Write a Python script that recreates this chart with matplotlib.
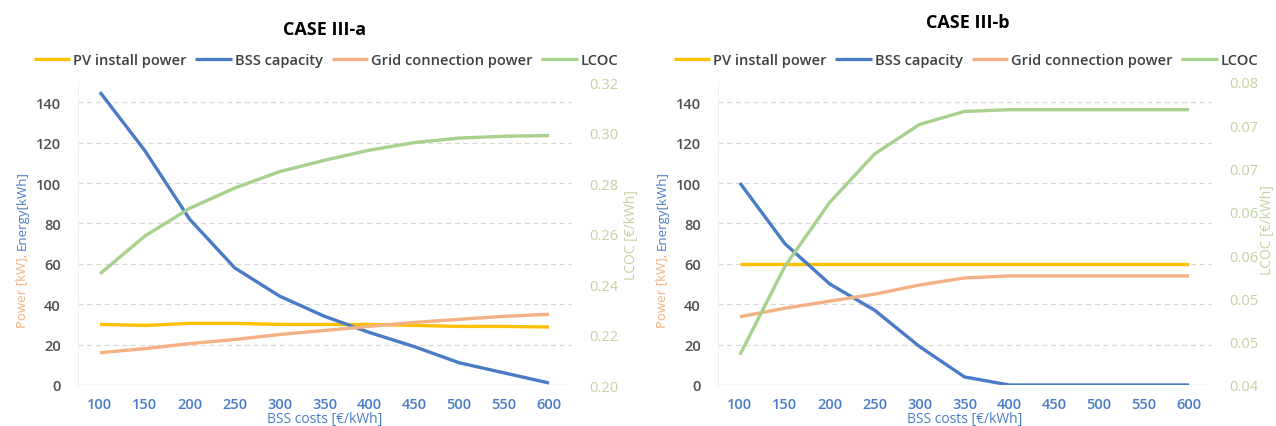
import matplotlib
matplotlib.use("Agg")
import matplotlib.pyplot as plt

plt.rcParams['font.family'] = ['Open Sans', 'DejaVu Sans']

# ---------------- data ----------------
bss_costs = [100, 150, 200, 250, 300, 350, 400, 450, 500, 550, 600]

a_pv = [30, 29.5, 30.5, 30.5, 30, 30, 30, 29.5, 29, 29, 28.7]
a_bss = [145, 116, 82, 58, 44, 34, 26, 19, 11, 6, 1]
a_grid = [16, 18, 20.5, 22.5, 25, 27, 29, 31, 32.5, 34, 35]
a_lcoc = [0.244, 0.259, 0.270, 0.278, 0.2845, 0.289, 0.293, 0.296, 0.2978, 0.2985, 0.2988]

b_pv = [60, 60, 60, 60, 60, 60, 60, 60, 60, 60, 60]
b_bss = [100, 70, 50, 37, 19, 4, 0, 0, 0, 0, 0]
b_grid = [33.8, 38, 41.5, 45, 49.5, 53, 54, 54, 54, 54, 54]
b_lcoc = [0.0435, 0.0537, 0.0611, 0.0667, 0.0701, 0.0716, 0.0718, 0.0718, 0.0718, 0.0718, 0.0718]

left_ticks = [0, 20, 40, 60, 80, 100, 120, 140]
a_right_ticks = [0.20, 0.22, 0.24, 0.26, 0.28, 0.30, 0.32]
a_right_labels = ['0.20', '0.22', '0.24', '0.26', '0.28', '0.30', '0.32']
b_right_ticks = [0.040, 0.045, 0.050, 0.055, 0.060, 0.065, 0.070, 0.075]
b_right_labels = ['0.04', '0.05', '0.05', '0.06', '0.06', '0.07', '0.07', '0.08']

titles = ['CASE III-a', 'CASE III-b']
series_names = ['PV install power', 'BSS capacity', 'Grid connection power', 'LCOC']

# ---------------- style ----------------
C_PV = '#FFC000'
C_BSS = '#4A7CC6'
C_GRID = '#F4B183'
C_LCOC = '#A9D18E'
C_RTICK = '#C3D3A0'
C_LTICK = '#505050'
C_XTICK = '#4A7CC6'
GRIDC = '#D9D9D9'
LW = 2.4

W, H = 1276, 427
fig = plt.figure(figsize=(W / 100, H / 100), dpi=100)
fig.patch.set_facecolor('white')


def fx(px):
    return px / W


def fy(py):
    return 1 - py / H


panels = [
    dict(x0=77.5, pv=a_pv, bss=a_bss, grid=a_grid, lcoc=a_lcoc,
         rlim=(0.20, 0.32), rticks=a_right_ticks, rlabels=a_right_labels,
         title=titles[0], title_xy=(325, 30), leg_x=326, rlab_x=632, rlab_y=235),
    dict(x0=717.5, pv=b_pv, bss=b_bss, grid=b_grid, lcoc=b_lcoc,
         rlim=(0.04, 0.075), rticks=b_right_ticks, rlabels=b_right_labels,
         title=titles[1], title_xy=(968, 23), leg_x=966, rlab_x=1267, rlab_y=230),
]

ylabel_pairs = []

for p in panels:
    ax = fig.add_axes([fx(p['x0']), fy(386), 494 / W, 303 / H])
    ax2 = ax.twinx()
    ax.set_zorder(ax2.get_zorder() - 1)
    ax.patch.set_visible(False)

    l1, = ax.plot(bss_costs, p['pv'], color=C_PV, lw=LW, solid_capstyle='butt', zorder=3)
    l2, = ax.plot(bss_costs, p['bss'], color=C_BSS, lw=LW, solid_capstyle='butt', zorder=3)
    l3, = ax.plot(bss_costs, p['grid'], color=C_GRID, lw=LW, solid_capstyle='butt', zorder=3)
    l4, = ax2.plot(bss_costs, p['lcoc'], color=C_LCOC, lw=LW, solid_capstyle='butt', zorder=3)

    ax.set_xlim(bss_costs[0] - 25, bss_costs[-1] + 25)
    ax.set_ylim(0, 150)
    ax2.set_ylim(*p['rlim'])

    ax.set_yticks(left_ticks)
    ax.set_xticks(bss_costs)
    ax2.set_yticks(p['rticks'])
    ax2.set_yticklabels(p['rlabels'])

    # gridlines
    for t in left_ticks[1:]:
        ax.axhline(t, color=GRIDC, lw=0.9, ls=(0, (4, 3)), zorder=1)
    ax.axhline(0, color=GRIDC, lw=1.0, zorder=2)

    for a in (ax, ax2):
        for s in a.spines.values():
            s.set_visible(False)
        a.tick_params(length=0)
    ax.spines['left'].set_visible(True)
    ax.spines['left'].set_color('#EFEFEF')
    ax.spines['left'].set_linewidth(0.8)

    ax.tick_params(axis='y', colors=C_LTICK, labelsize=10.5, pad=12)
    ax.tick_params(axis='x', colors=C_XTICK, labelsize=10.5, pad=9)
    ax2.tick_params(axis='y', colors=C_RTICK, labelsize=10.5, pad=13)
    for lab in ax.get_yticklabels() + ax.get_xticklabels():
        lab.set_fontweight('semibold')

    # x label
    fig.text(fx(p['x0'] + 247.5), fy(419.5), 'BSS costs [€/kWh]', color=C_XTICK,
             fontsize=10, ha='center', va='center')

    # left y label in two colours
    lx = p['x0'] - 55.5
    t1 = fig.text(fx(lx), fy(320), 'Power [kW],', color=C_GRID, fontsize=9.5,
                  rotation=90, rotation_mode='anchor', ha='left', va='center')
    t2 = fig.text(fx(lx), fy(254), 'Energy[kWh]', color=C_BSS, fontsize=9.5,
                  rotation=90, rotation_mode='anchor', ha='left', va='center')
    ylabel_pairs.append((t1, t2, lx))

    # right y label
    fig.text(fx(p['rlab_x']), fy(p['rlab_y']), 'LCOC [€/kWh]', color=C_RTICK,
             fontsize=10, rotation=90, ha='center', va='center')

    # title
    fig.text(fx(p['title_xy'][0]), fy(p['title_xy'][1]), p['title'],
             fontsize=13, fontweight='bold', ha='center', va='center', color='black')

    # legend
    fig.legend([l1, l2, l3, l4], series_names, loc='center',
               bbox_to_anchor=(fx(p['leg_x']), fy(61)), bbox_transform=fig.transFigure,
               ncol=4, frameon=False, handlelength=2.5,
               handletextpad=0.2, columnspacing=0.6, borderaxespad=0,
               labelcolor='#404040', prop={'weight': 'semibold', 'size': 10.5})

# place the two-coloured y labels end to end, centred near y=250 px
fig.canvas.draw()
renderer = fig.canvas.get_renderer()
for t1, t2, lx in ylabel_pairs:
    h1 = t1.get_window_extent(renderer).height
    h2 = t2.get_window_extent(renderer).height
    gap = 4
    total = h1 + gap + h2
    centre = 250  # px from top
    bottom_px = centre + total / 2
    t1.set_position((fx(lx), fy(bottom_px)))
    t2.set_position((fx(lx), fy(bottom_px - h1 - gap)))

fig.savefig('out.png', dpi=100, facecolor='white')
